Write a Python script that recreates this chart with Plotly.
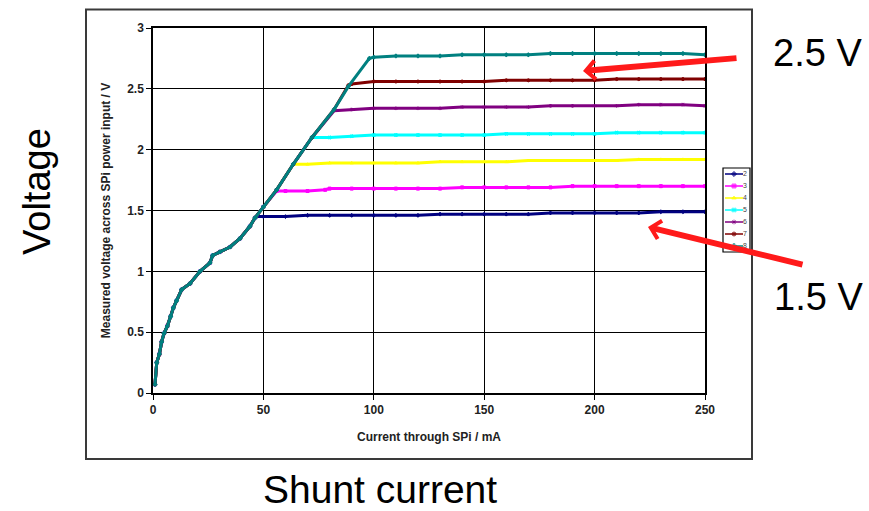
import plotly.graph_objects as go

# Shared rising part of every curve (current in mA, voltage in V)
rise_x = [0.9, 1.7, 2.9, 3.9, 5.0, 6.5, 8.0, 9.2, 10.7, 13.0, 16.8, 21.3, 25.8, 27.0,
          30.3, 34.9, 39.4, 43.9, 46.2]
rise_y = [0.07, 0.25, 0.32, 0.42, 0.49, 0.55, 0.63, 0.70, 0.76, 0.85, 0.90, 1.00, 1.07,
          1.13, 1.16, 1.20, 1.27, 1.37, 1.44]

# Linear ramp before each curve levels off
ramp_x = [50, 56, 63.5, 72, 82, 88.5, 98]
ramp_y = [1.53, 1.67, 1.88, 2.10, 2.33, 2.52, 2.75]

# Flat part of each curve, sampled every 10 mA from 100 to 250 mA
flat_x = [100, 110, 120, 130, 140, 150, 160, 170, 180, 190, 200, 210, 220, 230, 240, 250]

series_names = ["2", "3", "4", "5", "6", "7", "8"]
series_colors = ["#000080", "#FF00FF", "#FFFF00", "#00FFFF", "#800080", "#800000", "#008080"]
series_symbols = ["diamond", "square", "triangle-up", "x", "asterisk-open", "circle", "cross"]

# Knee and early plateau points (below 100 mA) per series
knee_x = {
    "2": [47, 50, 60, 70, 80, 90],
    "3": [56, 60, 70, 78, 80, 90],
    "4": [63.5, 70, 80, 90],
    "5": [72, 80, 90],
    "6": [82, 90],
    "7": [88.5, 90],
    "8": [98],
}
knee_y = {
    "2": [1.45, 1.45, 1.45, 1.46, 1.46, 1.46],
    "3": [1.66, 1.66, 1.66, 1.67, 1.68, 1.68],
    "4": [1.88, 1.88, 1.89, 1.89],
    "5": [2.10, 2.10, 2.11],
    "6": [2.32, 2.33],
    "7": [2.53, 2.54],
    "8": [2.75],
}
flat_y = {
    "2": [1.46, 1.46, 1.46, 1.47, 1.47, 1.47, 1.47, 1.47, 1.48, 1.48, 1.48, 1.48, 1.48, 1.49, 1.49, 1.49],
    "3": [1.68, 1.68, 1.68, 1.68, 1.69, 1.69, 1.69, 1.69, 1.69, 1.70, 1.70, 1.70, 1.70, 1.70, 1.70, 1.70],
    "4": [1.89, 1.89, 1.89, 1.90, 1.90, 1.90, 1.90, 1.91, 1.91, 1.91, 1.91, 1.91, 1.92, 1.92, 1.92, 1.92],
    "5": [2.12, 2.12, 2.12, 2.12, 2.12, 2.12, 2.13, 2.13, 2.13, 2.13, 2.13, 2.14, 2.14, 2.14, 2.14, 2.14],
    "6": [2.34, 2.34, 2.34, 2.34, 2.35, 2.35, 2.35, 2.35, 2.36, 2.36, 2.36, 2.36, 2.37, 2.37, 2.37, 2.36],
    "7": [2.56, 2.56, 2.56, 2.56, 2.56, 2.56, 2.57, 2.57, 2.57, 2.57, 2.57, 2.58, 2.58, 2.58, 2.58, 2.58],
    "8": [2.76, 2.77, 2.77, 2.77, 2.78, 2.78, 2.78, 2.78, 2.79, 2.79, 2.79, 2.79, 2.79, 2.79, 2.79, 2.78],
}

W, H = 869, 511
L, R, T, B = 153, 117, 28, 118
PW, PH = W - L - R, H - T - B


def px(x):
    return (x - L) / PW


def py(y):
    return (H - B - y) / PH


fig = go.Figure()

for name, color, sym in zip(series_names, series_colors, series_symbols):
    kx = knee_x[name]
    xs = list(rise_x) + [x for x in ramp_x if x < kx[0]] + kx + flat_x
    ys = list(rise_y) + [y for x, y in zip(ramp_x, ramp_y) if x < kx[0]] + knee_y[name] + flat_y[name]
    fig.add_trace(go.Scatter(
        x=xs, y=ys, name=name, mode="lines+markers", showlegend=False,
        line=dict(color=color, width=3),
        marker=dict(color=color, size=3, symbol=sym, line=dict(color=color, width=1)),
        xaxis="x", yaxis="y",
    ))

# Small series key drawn on its own pixel-scaled axes
for i, (name, color, sym) in enumerate(zip(series_names, series_colors, series_symbols)):
    yk = 0.5 + i
    fig.add_trace(go.Scatter(
        x=[2, 11, 20], y=[yk, yk, yk], mode="lines+markers+text",
        text=["", "", name], textposition="middle right",
        textfont=dict(size=7, color="#444444", family="Liberation Sans"),
        line=dict(color=color, width=1.5),
        marker=dict(color=color, size=[0, 4, 0], symbol=sym, line=dict(color=color, width=1)),
        showlegend=False, cliponaxis=False, hoverinfo="skip",
        xaxis="x2", yaxis="y2",
    ))

tick_font = dict(family="Liberation Sans", size=12, color="#222222", weight="bold")

fig.update_layout(
    width=W, height=H,
    margin=dict(l=L, r=R, t=T, b=B),
    paper_bgcolor="white", plot_bgcolor="white",
    showlegend=False,
    xaxis=dict(
        domain=[0, px(705)], range=[0, 250], tickvals=[0, 50, 100, 150, 200, 250],
        showgrid=True, gridcolor="black", gridwidth=1,
        showline=True, linecolor="black", linewidth=1.5, mirror=True,
        ticks="outside", ticklen=5, tickcolor="black",
        zeroline=False, tickfont=tick_font,
        title=dict(text="Current through SPi / mA", font=tick_font, standoff=16),
    ),
    yaxis=dict(
        domain=[0, 1], range=[0, 3], tickvals=[0, 0.5, 1, 1.5, 2, 2.5, 3],
        ticktext=["0", "0.5", "1", "1.5", "2", "2.5", "3"],
        showgrid=True, gridcolor="black", gridwidth=1,
        showline=True, linecolor="black", linewidth=1.5, mirror=True,
        ticks="outside", ticklen=5, tickcolor="black",
        zeroline=False, tickfont=tick_font,
        title=dict(text="Measured voltage across SPi power input / V", font=tick_font, standoff=14),
    ),
    xaxis2=dict(domain=[px(723), px(750)], range=[0, 27], visible=False, anchor="y2", fixedrange=True),
    yaxis2=dict(domain=[py(252), py(168)], range=[7, 0], visible=False, anchor="x2", fixedrange=True),
)

shapes = [
    # outer frame
    dict(type="rect", xref="paper", yref="paper", x0=px(86), x1=px(752), y0=py(459), y1=py(9.5),
         line=dict(color="#3a3a3a", width=2), layer="below"),
    # key box
    dict(type="rect", xref="paper", yref="paper", x0=px(723), x1=px(750), y0=py(252), y1=py(168),
         line=dict(color="black", width=1.2), fillcolor="white", layer="below"),
]
fig.update_layout(shapes=shapes)

big_font = dict(family="Liberation Sans", size=38, color="black")
annotations = [
    dict(text="Voltage", x=px(37), y=py(192), xref="paper", yref="paper", showarrow=False,
         textangle=-90, font=big_font, xanchor="center", yanchor="middle"),
    dict(text="Shunt current", x=px(380), y=py(490), xref="paper", yref="paper", showarrow=False,
         font=dict(family="Liberation Sans", size=39, color="black"), xanchor="center", yanchor="middle"),
    dict(text="2.5 V", x=px(817), y=py(53), xref="paper", yref="paper", showarrow=False,
         font=big_font, xanchor="center", yanchor="middle"),
    dict(text="1.5 V", x=px(818), y=py(297), xref="paper", yref="paper", showarrow=False,
         font=big_font, xanchor="center", yanchor="middle"),
    dict(text="", x=px(583), y=py(71), xref="paper", yref="paper", showarrow=True,
         ax=155, ay=-13, arrowcolor="#ff1a1a", arrowwidth=6, arrowhead=4, arrowsize=0.6, standoff=0),
    dict(text="", x=px(648), y=py(227), xref="paper", yref="paper", showarrow=True,
         ax=156, ay=38, arrowcolor="#ff1a1a", arrowwidth=6, arrowhead=4, arrowsize=0.6, standoff=0),
]
fig.update_layout(annotations=annotations)

fig.write_html("out.html")
